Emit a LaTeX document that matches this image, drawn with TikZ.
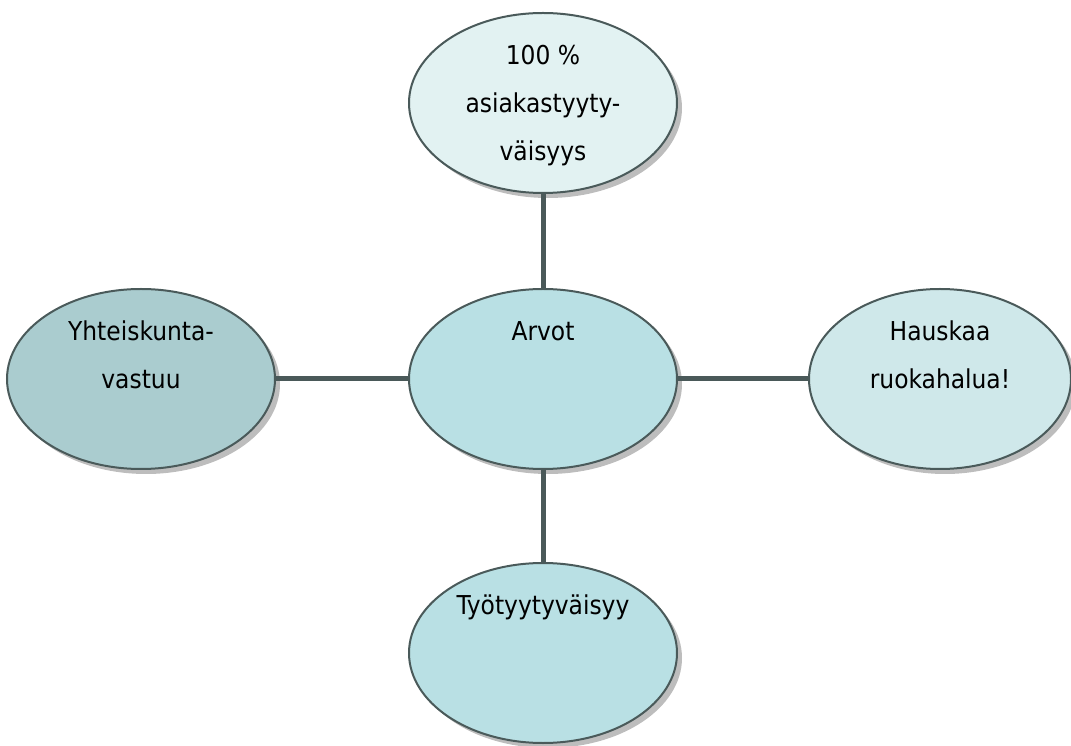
\documentclass[tikz,border=0pt]{standalone}
\usepackage{fontspec}
\setmainfont{DejaVu Sans Condensed}
\usetikzlibrary{positioning,shapes.geometric,shadows}
\definecolor{rimgray}{HTML}{4A5A5A}
\definecolor{linkgray}{HTML}{4A5959}
\definecolor{palecyan}{HTML}{E2F2F2}
\definecolor{midcyan}{HTML}{B9E0E4}
\definecolor{darkcyan}{HTML}{AACCCF}
\definecolor{lightcyan}{HTML}{CFE8EA}
\tikzset{
  bubble/.style={ellipse, draw=rimgray, line width=2pt, minimum width=268pt, minimum height=180pt,
    drop shadow={shadow xshift=5pt, shadow yshift=-5pt, fill=black!26, opacity=1}},
  txt/.style={anchor=north, inner sep=0pt, align=center, font=\fontsize{26}{48}\selectfont},
  link/.style={draw=linkgray, line width=5pt}
}
\begin{document}
\begin{tikzpicture}[node distance=94pt]
  \useasboundingbox (0,0) rectangle (1071pt,745pt);
  \node [bubble, fill=midcyan] (arvot) at (543pt,366pt) {};
  \node [bubble, fill=palecyan, above=94pt of arvot] (asiakas) {};
  \node [bubble, fill=darkcyan, left=132pt of arvot] (yhteis) {};
  \node [bubble, fill=lightcyan, minimum width=262pt, right=130pt of arvot] (hauskaa) {};
  \node [bubble, fill=midcyan, below=92pt of arvot] (tyo) {};

  \node [txt] (arvot-t) at ([yshift=-33pt]arvot.north) {Arvot};
  \node [txt] (asiakas-t) at ([yshift=-33pt]asiakas.north) {100 \%\\asiakastyyty-\\väisyys};
  \node [txt] (yhteis-t) at ([yshift=-33pt]yhteis.north) {Yhteiskunta-\\vastuu};
  \node [txt] (hauskaa-t) at ([yshift=-33pt]hauskaa.north) {Hauskaa\\ruokahalua!};
  \node [txt] (tyo-t) at ([yshift=-33pt]tyo.north) {Työtyytyväisyy};

  \draw [link] (asiakas) -- (arvot);
  \draw [link] (yhteis) -- (arvot);
  \draw [link] (arvot) -- (hauskaa);
  \draw [link] (arvot) -- (tyo);
\end{tikzpicture}
\end{document}
